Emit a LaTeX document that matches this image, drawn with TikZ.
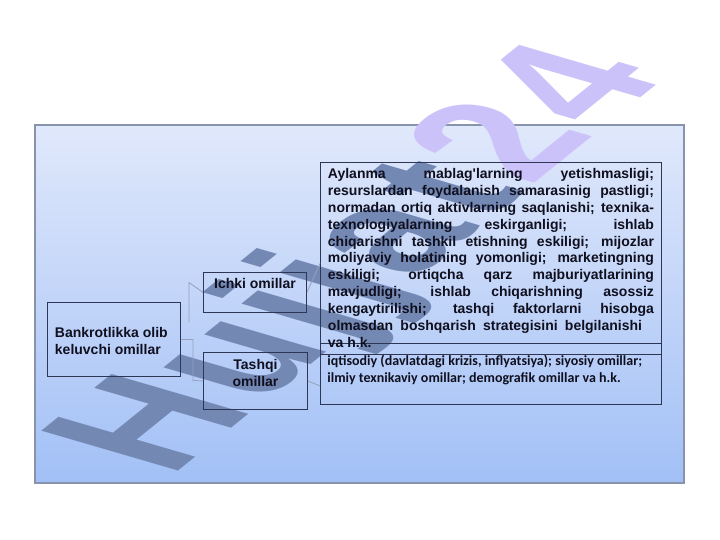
\documentclass[tikz,border=0pt]{standalone}
\usepackage{fontspec}
\setmainfont{Liberation Sans}
\newfontfamily\carlito{Carlito}
\definecolor{panelTop}{RGB}{224,232,251}
\definecolor{panelBot}{RGB}{162,192,246}
\definecolor{panelEdge}{RGB}{135,148,172}
\definecolor{boxEdge}{RGB}{45,55,85}
\definecolor{connCol}{RGB}{150,160,185}
\definecolor{wmGray}{RGB}{116,136,180}
\definecolor{wmLav}{RGB}{204,194,250}
\definecolor{txt}{RGB}{15,15,30}
\newcommand\wk{\kern4.5bp}
\begin{document}
\begin{tikzpicture}[x=1bp,y=-1bp,
  box/.style={draw=boxEdge, line width=0.9bp, inner ysep=0pt, text=txt,
    font=\fontsize{14.05}{16.9}\selectfont\bfseries},
  conn/.style={draw=connCol, line width=0.8bp}]
\useasboundingbox (0,0) rectangle (720,540);
\fill[white] (0,0) rectangle (720,540);
% panel
\shade[top color=panelTop, bottom color=panelBot] (35,125) rectangle (684,483);
\draw[panelEdge, line width=1.3bp] (35,125) rectangle (684,483);
% watermark
\begin{scope}[shift={(170,478)}, xscale=2.06, transform shape]
\node[rotate=59, inner sep=0pt, anchor=base west,
  font=\fontsize{113}{113}\selectfont\bfseries] (wm) at (0,0)
  {\textcolor{wmGray}{H\wk u\wk j\wk j\wk a\wk t}\wk\textcolor{wmLav}{2\wk 4}};
\end{scope}
% boxes
\node[box, anchor=north west, inner xsep=7.5bp, text height=35bp, text depth=39bp]
  (bank) at (47,302) {\parbox[t]{118bp}{\raggedright Bankrotlikka olib\\keluvchi omillar}};
\node[box, anchor=north west, minimum width=103bp, inner xsep=0pt, text height=16bp, text depth=24bp]
  (ichki) at (203,272) {Ichki omillar};
\node[box, anchor=north west, inner xsep=2bp, text height=17bp, text depth=40bp]
  (tashqi) at (203,352) {\parbox[t]{100bp}{\centering Tashqi\\omillar}};
\node[box, anchor=north west, inner xsep=7bp, text height=22bp, text depth=39bp]
  (low) at (320,343) {\parbox[t]{327bp}{\carlito\raggedright iqtisodiy (davlatdagi krizis, inflyatsiya); siyosiy omillar;\\ilmiy texnikaviy omillar; demografik omillar va h.k.}};
\node[box, anchor=north west, inner xsep=7.5bp, text height=16.3bp, text depth=175.7bp]
  (big) at (320,162) {\parbox[t]{326bp}{\tolerance=10000\hbadness=10000
  Aylanma mablag\textquotesingle larning yetishmasligi;\linebreak
  resurslardan foydalanish samarasinig pastligi;\linebreak
  normadan ortiq aktivlarning saqlanishi; texnika-\linebreak
  texnologiyalarning eskirganligi; ishlab\linebreak
  chiqarishni tashkil etishning eskiligi; mijozlar\linebreak
  moliyaviy holatining yomonligi; marketingning\linebreak
  eskiligi; ortiqcha qarz majburiyatlarining\linebreak
  mavjudligi; ishlab chiqarishning asossiz\linebreak
  kengaytirilishi; tashqi faktorlarni hisobga\linebreak
  olmasdan boshqarish strategisini belgilanishi\hspace*{12bp}\linebreak
  va h.k.}};
% connectors
\draw[conn] (bank.east) -- ++(12,0) coordinate (k1) -- ++(0,41) coordinate (k2) -- (tashqi.west);
\draw[conn] ([xshift=8bp,yshift=17bp]bank.east) coordinate (k3) -- ++(0,-40) coordinate (k4) -- (ichki.west);
\draw[conn] (ichki.east) -- ([yshift=-5bp]big.west);
\draw[conn] (tashqi.east) -- ([yshift=-12bp]low.west);
\end{tikzpicture}
\end{document}
